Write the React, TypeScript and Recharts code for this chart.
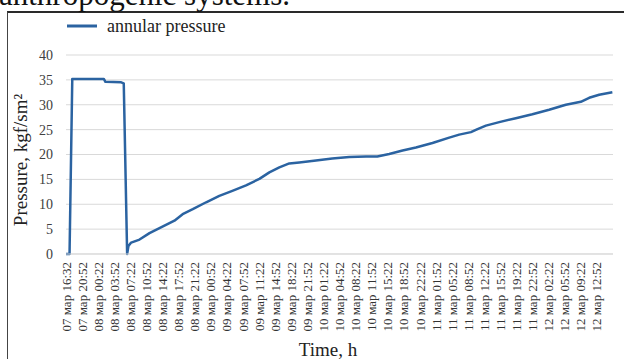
import { CartesianGrid, Legend, Line, LineChart, XAxis, YAxis } from "recharts";

// category labels on the time axis (one per slot)
const timeLabels = [
  "07 мар 16:32", "07 мар 20:52", "08 мар 00:22", "08 мар 03:52", "08 мар 07:22",
  "08 мар 10:52", "08 мар 14:22", "08 мар 17:52", "08 мар 21:22", "09 мар 00:52",
  "09 мар 04:22", "09 мар 07:52", "09 мар 11:22", "09 мар 14:52", "09 мар 18:22",
  "09 мар 21:52", "10 мар 01:22", "10 мар 04:52", "10 мар 08:22", "10 мар 11:52",
  "10 мар 15:22", "10 мар 18:52", "10 мар 22:22", "11 мар 01:52", "11 мар 05:22",
  "11 мар 08:52", "11 мар 12:22", "11 мар 15:52", "11 мар 19:22", "11 мар 22:52",
  "12 мар 02:22", "12 мар 05:52", "12 мар 09:22", "12 мар 12:52"
];

// sample position, in label slots from the first label
const slot = [
  0, 0.22, 0.39, 2.35, 2.45, 3.43, 3.59, 3.8, 3.88, 4.05,
  4.57, 5.19, 5.81, 6.43, 6.74, 7.25, 7.88, 8.71, 9.53, 10.34,
  11.19, 12.02, 12.64, 13.26, 13.88, 14.5, 15.54, 16.55, 17.61, 18.65,
  19.35, 20.09, 20.92, 21.75, 22.78, 23.82, 24.44, 25.17, 25.58, 26.1,
  26.93, 27.96, 28.99, 30.03, 31.07, 32.0, 32.52, 33.14, 33.96
];

// annular pressure, kgf/sm²
const pressure = [
  0, 0, 35.2, 35.2, 34.6, 34.5, 34.3, 0, 1.6, 2.3,
  2.9, 4.2, 5.2, 6.2, 6.7, 8.0, 9.0, 10.4, 11.7, 12.7,
  13.8, 15.1, 16.4, 17.4, 18.2, 18.4, 18.8, 19.2, 19.5, 19.6,
  19.6, 20.1, 20.8, 21.4, 22.3, 23.4, 24.0, 24.5, 25.1, 25.8,
  26.5, 27.3, 28.1, 29.0, 30.0, 30.6, 31.4, 32.0, 32.5
];

const yTicks = [0, 5, 10, 15, 20, 25, 30, 35, 40];

const data = slot.map((s, i) => ({ t: s, p: pressure[i] }));
const lineColor = "#2b63a1";
const serif = "'Liberation Serif', 'Times New Roman', serif";

function TimeTick({ x, y, payload }: any) {
  return (
    <g transform={`translate(${x},${y})`}>
      <text
        transform="rotate(-90)"
        textAnchor="end"
        dy="0.35em"
        fontSize={13}
        fontFamily={serif}
        fill="#333"
      >
        {timeLabels[payload.value]}
      </text>
    </g>
  );
}

function LegendBox() {
  return (
    <div style={{ display: "flex", alignItems: "center", height: 22 }}>
      <svg width={30} height={6}>
        <line x1={0} y1={3} x2={30} y2={3} stroke={lineColor} strokeWidth={3} />
      </svg>
      <span style={{ marginLeft: 10, fontFamily: serif, fontSize: 18, color: "#222" }}>
        annular pressure
      </span>
    </div>
  );
}

export default function App() {
  return (
    <div
      style={{
        position: "absolute",
        left: 0,
        top: 0,
        width: 624,
        height: 359,
        overflow: "hidden",
        background: "#fff"
      }}
    >
      <div
        style={{
          position: "absolute",
          left: 7,
          top: 11,
          width: 700,
          height: 400,
          borderTop: "2px solid #2a2a2a",
          borderLeft: "1px solid #444"
        }}
      />
      <div style={{ position: "absolute", left: 0, top: 0 }}>
        <LineChart
          width={624}
          height={359}
          data={data}
          margin={{ top: 55, right: 11, left: 0, bottom: 0 }}
        >
          <CartesianGrid vertical={false} stroke="#d9d9d9" />
          <XAxis
            dataKey="t"
            type="number"
            domain={[0, 34]}
            ticks={timeLabels.map((_, i) => i)}
            interval={0}
            height={105}
            tick={<TimeTick />}
            tickLine={false}
            tickSize={0}
            tickMargin={8}
            axisLine={{ stroke: "#d9d9d9" }}
          />
          <YAxis
            domain={[0, 40]}
            ticks={yTicks}
            width={66}
            axisLine={false}
            tickLine={false}
            tickSize={0}
            tickMargin={13}
            tick={{ fontSize: 14, fill: "#404040", fontFamily: serif }}
          />
          <Legend
            layout="horizontal"
            verticalAlign="middle"
            align="center"
            content={<LegendBox />}
            wrapperStyle={{ top: 15, left: 67, width: "auto" }}
          />
          <Line
            type="linear"
            dataKey="p"
            stroke={lineColor}
            strokeWidth={2.5}
            strokeLinejoin="round"
            dot={false}
            isAnimationActive={false}
          />
        </LineChart>
      </div>
      <svg
        width={624}
        height={359}
        style={{ position: "absolute", left: 0, top: 0, pointerEvents: "none" }}
      >
        <text x={-1} y={5} fontSize={31} fontFamily={serif} fill="#111">
          anthropogenic systems.
        </text>
        <text
          transform="translate(27,160) rotate(-90)"
          textAnchor="middle"
          fontSize={19}
          fontFamily={serif}
          fill="#222"
        >
          Pressure, kgf/sm²
        </text>
        <text x={328} y={356} textAnchor="middle" fontSize={19} fontFamily={serif} fill="#222">
          Time, h
        </text>
      </svg>
    </div>
  );
}
